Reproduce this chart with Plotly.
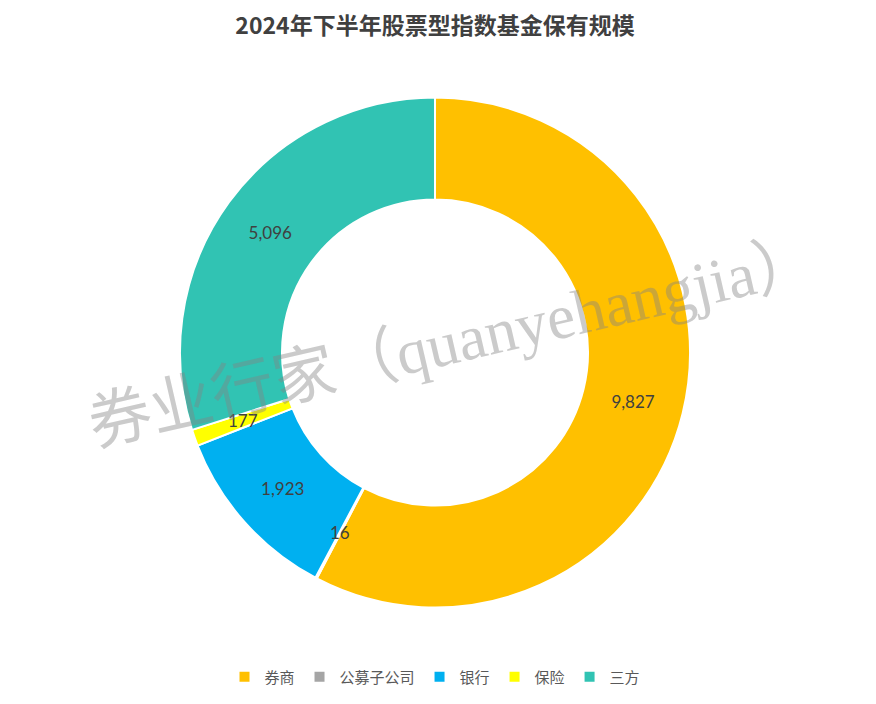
import math
import plotly.graph_objects as go

categories = ["券商", "公募子公司", "银行", "保险", "三方"]
values = [9827, 16, 1923, 177, 5096]
colors = ["#FFC000", "#A5A5A5", "#00B0F0", "#FFFF00", "#31C3B3"]
title_text = "2024年下半年股票型指数基金保有规模"
watermark = "券业行家（quanyehangjia）"

W, H = 876, 704
ML, MR, MT, MB = 172, 194, 89, 104
HOLE = 0.6
pw, ph = W - ML - MR, H - MT - MB
R = min(pw, ph) / 2
SMALL = 1000  # slices too thin for plotly's inside text get a label annotation

label_font = dict(family="Lato, Open Sans, sans-serif", size=17, color="#404040")

templates = ["%{value:,}" if v >= SMALL else "" for v in values]

fig = go.Figure(go.Pie(
    labels=categories,
    values=values,
    hole=HOLE,
    sort=False,
    direction="clockwise",
    rotation=0,
    marker=dict(colors=colors, line=dict(color="white", width=2)),
    texttemplate=templates,
    textposition="inside",
    insidetextorientation="horizontal",
    textfont=label_font,
    hoverinfo="label+value+percent",
))

# labels for thin slices, placed at the middle of the ring at the slice's mid-angle
annotations = []
total = sum(values)
cum = 0
rmid = R * (1 + HOLE) / 2
for v in values:
    theta = 2 * math.pi * (cum + v / 2) / total
    cum += v
    if v < SMALL:
        annotations.append(dict(
            text=f"{v:,}", showarrow=False,
            x=0.5 + rmid * math.sin(theta) / pw,
            y=0.5 + rmid * math.cos(theta) / ph,
            xref="paper", yref="paper", xanchor="center", yanchor="middle",
            font=label_font,
        ))

annotations.append(dict(
    text=watermark, x=0.535, y=0.52, xref="paper", yref="paper",
    xanchor="center", yanchor="middle", showarrow=False, textangle=-13,
    font=dict(family="Liberation Serif, Noto Sans CJK SC, serif", size=63,
              color="rgba(130,130,130,0.42)"),
))

fig.update_layout(
    width=W, height=H,
    paper_bgcolor="white", plot_bgcolor="white",
    margin=dict(l=ML, r=MR, t=MT, b=MB, autoexpand=False),
    title=dict(
        text=title_text,
        x=0.5, xref="paper", xanchor="center",
        y=0.975, yref="container", yanchor="middle",
        font=dict(family="Noto Sans CJK SC, sans-serif", size=23, color="#404040", weight="bold"),
    ),
    showlegend=True,
    legend=dict(
        orientation="h", x=0.5, xanchor="center", xref="paper",
        y=-0.135, yanchor="middle",
        font=dict(family="Noto Sans CJK SC, sans-serif", size=15, color="#595959"),
        itemwidth=30, traceorder="normal",
    ),
    annotations=annotations,
)

fig.write_html("out.html")
